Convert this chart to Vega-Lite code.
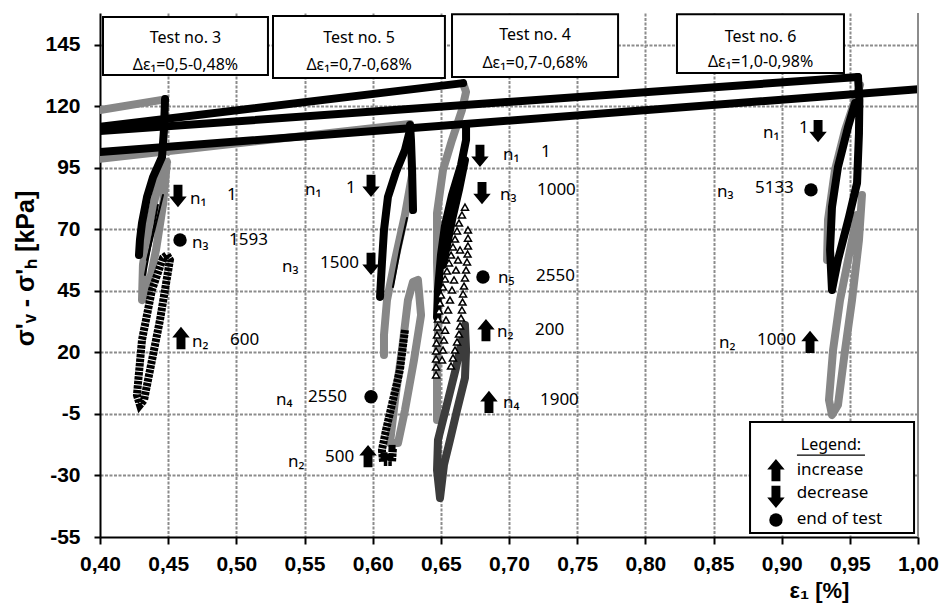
{
  "$schema": "https://vega.github.io/schema/vega-lite/v6.json",
  "width": 818,
  "height": 524,
  "autosize": {"type": "none"},
  "padding": {"left": 100, "top": 13, "right": 23, "bottom": 67},
  "background": "white",
  "config": {"view": {"stroke": null}, "font": "Liberation Sans"},
  "datasets": {
    "lines": [
      {"s":"g_load3","i":0,"x":0.40,"y":118.6},{"s":"g_load3","i":1,"x":0.4477,"y":122.9},
      {"s":"g_loop3","i":0,"x":0.4491,"y":97.4},{"s":"g_loop3","i":1,"x":0.4462,"y":80.0},{"s":"g_loop3","i":2,"x":0.4411,"y":61.7},{"s":"g_loop3","i":3,"x":0.4352,"y":45.4},{"s":"g_loop3","i":4,"x":0.4308,"y":41.3},{"s":"g_loop3","i":5,"x":0.4315,"y":55.6},{"s":"g_loop3","i":6,"x":0.4359,"y":71.8},{"s":"g_loop3","i":7,"x":0.4418,"y":86.1},{"s":"g_loop3","i":8,"x":0.4462,"y":96.2},{"s":"g_loop3","i":9,"x":0.4491,"y":97.4},
      {"s":"g_load5","i":0,"x":0.40,"y":98.7},{"s":"g_load5","i":1,"x":0.6274,"y":112.9},
      {"s":"g_up5","i":0,"x":0.6289,"y":92.1},{"s":"g_up5","i":1,"x":0.6237,"y":75.9},{"s":"g_up5","i":2,"x":0.6164,"y":57.6},{"s":"g_up5","i":3,"x":0.6105,"y":41.3},{"s":"g_up5","i":4,"x":0.6083,"y":27.1},{"s":"g_up5","i":5,"x":0.6083,"y":19.0},
      {"s":"g_low5","i":0,"x":0.6332,"y":49.5},{"s":"g_low5","i":1,"x":0.6355,"y":35.2},{"s":"g_low5","i":2,"x":0.6303,"y":16.9},{"s":"g_low5","i":3,"x":0.6237,"y":-3.4},{"s":"g_low5","i":4,"x":0.6186,"y":-16.8},{"s":"g_low5","i":5,"x":0.6127,"y":-16.8},{"s":"g_low5","i":6,"x":0.6164,"y":0.7},{"s":"g_low5","i":7,"x":0.6215,"y":21.0},{"s":"g_low5","i":8,"x":0.6259,"y":41.3},{"s":"g_low5","i":9,"x":0.6296,"y":48.7},{"s":"g_low5","i":10,"x":0.6332,"y":49.5},
      {"s":"g_t4","i":0,"x":0.6663,"y":129.5},{"s":"g_t4","i":1,"x":0.6685,"y":125.9},{"s":"g_t4","i":2,"x":0.6655,"y":118.6},{"s":"g_t4","i":3,"x":0.6582,"y":106.4},{"s":"g_t4","i":4,"x":0.6516,"y":94.2},{"s":"g_t4","i":5,"x":0.6472,"y":76.7},{"s":"g_t4","i":6,"x":0.6472,"y":56.4},{"s":"g_t4","i":7,"x":0.6479,"y":41.3},{"s":"g_t4","i":8,"x":0.6479,"y":25.1},{"s":"g_t4","i":9,"x":0.6472,"y":8.8},{"s":"g_t4","i":10,"x":0.6472,"y":-7.4},
      {"s":"g_t6u","i":0,"x":0.9575,"y":128.7},{"s":"g_t6u","i":1,"x":0.9465,"y":110.4},{"s":"g_t6u","i":2,"x":0.9391,"y":94.2},{"s":"g_t6u","i":3,"x":0.934,"y":73.9},{"s":"g_t6u","i":4,"x":0.9333,"y":57.6},
      {"s":"g_t6l","i":0,"x":0.9589,"y":84.0},{"s":"g_t6l","i":1,"x":0.9567,"y":65.7},{"s":"g_t6l","i":2,"x":0.9516,"y":41.3},{"s":"g_t6l","i":3,"x":0.9465,"y":21.0},{"s":"g_t6l","i":4,"x":0.9413,"y":-1.3},{"s":"g_t6l","i":5,"x":0.9369,"y":-5.4},{"s":"g_t6l","i":6,"x":0.9347,"y":0.7},{"s":"g_t6l","i":7,"x":0.9377,"y":21.0},{"s":"g_t6l","i":8,"x":0.9428,"y":41.3},{"s":"g_t6l","i":9,"x":0.9487,"y":57.6},{"s":"g_t6l","i":10,"x":0.9553,"y":75.9},
      {"s":"dg_t4","i":0,"x":0.6677,"y":31.2},{"s":"dg_t4","i":1,"x":0.6685,"y":21.0},{"s":"dg_t4","i":2,"x":0.6677,"y":9.6},{"s":"dg_t4","i":3,"x":0.6619,"y":-3.4},{"s":"dg_t4","i":4,"x":0.6567,"y":-15.6},{"s":"dg_t4","i":5,"x":0.6523,"y":-25.7},{"s":"dg_t4","i":6,"x":0.6494,"y":-39.2},{"s":"dg_t4","i":7,"x":0.6472,"y":-27.8},{"s":"dg_t4","i":8,"x":0.6479,"y":-15.6},{"s":"dg_t4","i":9,"x":0.6538,"y":-2.6},{"s":"dg_t4","i":10,"x":0.6611,"y":13.7},{"s":"dg_t4","i":11,"x":0.6663,"y":27.1},{"s":"dg_t4","i":12,"x":0.6677,"y":31.2},
      {"s":"L1","i":0,"x":0.40,"y":111.7},{"s":"L1","i":1,"x":0.6663,"y":129.5},
      {"s":"L2","i":0,"x":0.40,"y":110.0},{"s":"L2","i":1,"x":0.956,"y":132.0},
      {"s":"L3","i":0,"x":0.40,"y":101.5},{"s":"L3","i":1,"x":1.0,"y":127.0},
      {"s":"b_t6","i":0,"x":0.956,"y":132.0},{"s":"b_t6","i":1,"x":0.957,"y":122.6},{"s":"b_t6","i":2,"x":0.9567,"y":109.2},{"s":"b_t6","i":3,"x":0.9553,"y":88.9},{"s":"b_t6","i":4,"x":0.9494,"y":75.1},{"s":"b_t6","i":5,"x":0.9413,"y":57.6},{"s":"b_t6","i":6,"x":0.9369,"y":45.4},{"s":"b_t6","i":7,"x":0.9355,"y":61.7},{"s":"b_t6","i":8,"x":0.9369,"y":79.1},{"s":"b_t6","i":9,"x":0.9413,"y":95.4},{"s":"b_t6","i":10,"x":0.9487,"y":111.7},{"s":"b_t6","i":11,"x":0.9538,"y":121.4},
      {"s":"b_t3","i":0,"x":0.4477,"y":123.0},{"s":"b_t3","i":1,"x":0.4469,"y":110.4},{"s":"b_t3","i":2,"x":0.4455,"y":99.5},{"s":"b_t3","i":3,"x":0.4389,"y":91.3},{"s":"b_t3","i":4,"x":0.4345,"y":83.2},{"s":"b_t3","i":5,"x":0.4308,"y":72.6},{"s":"b_t3","i":6,"x":0.4293,"y":65.7},{"s":"b_t3","i":7,"x":0.4286,"y":59.6},
      {"s":"b_t5a","i":0,"x":0.6274,"y":112.5},{"s":"b_t5a","i":1,"x":0.6281,"y":106.4},{"s":"b_t5a","i":2,"x":0.6289,"y":94.2},{"s":"b_t5a","i":3,"x":0.6296,"y":77.9},
      {"s":"b_t5b","i":0,"x":0.6274,"y":110.4},{"s":"b_t5b","i":1,"x":0.6237,"y":102.3},{"s":"b_t5b","i":2,"x":0.6171,"y":93.4},{"s":"b_t5b","i":3,"x":0.6112,"y":83.2},{"s":"b_t5b","i":4,"x":0.6083,"y":69.8},{"s":"b_t5b","i":5,"x":0.6068,"y":56.4},{"s":"b_t5b","i":6,"x":0.6054,"y":42.6},
      {"s":"b_t4a","i":0,"x":0.6685,"y":112.9},{"s":"b_t4a","i":1,"x":0.6685,"y":106.4},{"s":"b_t4a","i":2,"x":0.6648,"y":96.2},{"s":"b_t4a","i":3,"x":0.6582,"y":84.0},{"s":"b_t4a","i":4,"x":0.6531,"y":71.8},{"s":"b_t4a","i":5,"x":0.6501,"y":59.6},{"s":"b_t4a","i":6,"x":0.6479,"y":45.4},{"s":"b_t4a","i":7,"x":0.6472,"y":34.4},
      {"s":"b_t4b","i":0,"x":0.6677,"y":98.2},{"s":"b_t4b","i":1,"x":0.6633,"y":86.1},{"s":"b_t4b","i":2,"x":0.6582,"y":73.9},{"s":"b_t4b","i":3,"x":0.6538,"y":61.7},{"s":"b_t4b","i":4,"x":0.6516,"y":55.6},
      {"s":"th_t3a","i":0,"x":0.4462,"y":84.0},{"s":"th_t3a","i":1,"x":0.4345,"y":57.6},
      {"s":"th_t3b","i":0,"x":0.4425,"y":80.0},{"s":"th_t3b","i":1,"x":0.433,"y":51.5},
      {"s":"th_t5","i":0,"x":0.6252,"y":74.7},{"s":"th_t5","i":1,"x":0.62,"y":61.7},{"s":"th_t5","i":2,"x":0.6149,"y":46.6},
      {"s":"h_t3","i":0,"x":0.4491,"y":59.6},{"s":"h_t3","i":1,"x":0.4513,"y":57.6},{"s":"h_t3","i":2,"x":0.444,"y":33.2},{"s":"h_t3","i":3,"x":0.4367,"y":12.9},{"s":"h_t3","i":4,"x":0.4323,"y":0.7},{"s":"h_t3","i":5,"x":0.4293,"y":-1.3},{"s":"h_t3","i":6,"x":0.4271,"y":2.7},{"s":"h_t3","i":7,"x":0.4308,"y":25.1},{"s":"h_t3","i":8,"x":0.4381,"y":45.4},{"s":"h_t3","i":9,"x":0.4462,"y":58.4},{"s":"h_t3","i":10,"x":0.4491,"y":59.6},
      {"s":"h_t5","i":0,"x":0.6237,"y":29.1},{"s":"h_t5","i":1,"x":0.62,"y":12.9},{"s":"h_t5","i":2,"x":0.6149,"y":0.7},{"s":"h_t5","i":3,"x":0.6098,"y":-11.5},{"s":"h_t5","i":4,"x":0.6068,"y":-19.6},{"s":"h_t5","i":5,"x":0.6076,"y":-24.5},{"s":"h_t5","i":6,"x":0.6142,"y":-24.5},{"s":"h_t5","i":7,"x":0.6149,"y":-18.8}
    ],
    "tri": [
      {"x":0.6677,"y":79.1},{"x":0.6655,"y":75.9},{"x":0.6633,"y":72.6},{"x":0.6619,"y":69.4},{"x":0.6604,"y":66.1},{"x":0.6589,"y":62.9},{"x":0.6575,"y":59.6},{"x":0.656,"y":56.4},{"x":0.6545,"y":53.1},{"x":0.6531,"y":49.9},{"x":0.6516,"y":46.6},{"x":0.6501,"y":43.4},{"x":0.6494,"y":40.1},{"x":0.6487,"y":36.9},{"x":0.6479,"y":33.6},{"x":0.6476,"y":30.4},{"x":0.6472,"y":27.1},{"x":0.6468,"y":23.9},{"x":0.6465,"y":20.6},{"x":0.6465,"y":17.4},{"x":0.6465,"y":14.1},{"x":0.6465,"y":10.9},
      {"x":0.6641,"y":61.7},{"x":0.6626,"y":57.6},{"x":0.6611,"y":53.5},{"x":0.6597,"y":49.5},{"x":0.6582,"y":45.4},{"x":0.6567,"y":41.3},{"x":0.6553,"y":37.3},{"x":0.6538,"y":33.2},{"x":0.6531,"y":29.1},{"x":0.6523,"y":25.1},{"x":0.6516,"y":21.0},{"x":0.6509,"y":17.0},
      {"x":0.6699,"y":69.8},{"x":0.6699,"y":66.5},{"x":0.6699,"y":63.3},{"x":0.6696,"y":60.0},{"x":0.6692,"y":56.8},{"x":0.6685,"y":53.5},{"x":0.6677,"y":50.3},{"x":0.667,"y":47.0},{"x":0.6663,"y":43.8},{"x":0.6659,"y":40.5},{"x":0.6655,"y":37.3},{"x":0.6648,"y":34.0},{"x":0.6641,"y":30.8},{"x":0.6633,"y":27.5},{"x":0.6619,"y":24.3},{"x":0.6604,"y":21.0},{"x":0.6589,"y":17.8},{"x":0.6575,"y":14.5}
    ],
    "sq": [
      {"x":0.6083,"y":-22.0},{"x":0.6127,"y":-22.5},{"x":0.6142,"y":-19.0}
    ],
    "arrows": [
      {"k":"down","x":0.4572,"y":83.6},{"k":"down","x":0.5988,"y":87.7},{"k":"down","x":0.5988,"y":56.0},{"k":"down","x":0.6787,"y":99.9},{"k":"down","x":0.6802,"y":84.8},{"k":"down","x":0.9267,"y":110.0},{"k":"down","x":0.8958,"y":-38.7},
      {"k":"up","x":0.4594,"y":25.9},{"k":"up","x":0.5966,"y":-22.1},{"k":"up","x":0.6831,"y":29.1},{"k":"up","x":0.6853,"y":-0.1},{"k":"up","x":0.9208,"y":24.3},{"k":"up","x":0.8958,"y":-27.8}
    ],
    "dots": [
      {"x":0.4587,"y":65.7},{"x":0.5988,"y":2.0},{"x":0.6809,"y":50.7},{"x":0.9215,"y":86.1},{"x":0.8958,"y":-48.1}
    ],
    "lab": [
      {"x":0.466,"y":82.4,"t":"n₁"},{"x":0.4932,"y":84.0,"t":"1"},
      {"x":0.4675,"y":64.5,"t":"n₃"},{"x":0.4946,"y":65.7,"t":"1593"},
      {"x":0.4675,"y":24.3,"t":"n₂"},{"x":0.4954,"y":25.1,"t":"600"},
      {"x":0.5504,"y":86.0,"t":"n₁"},{"x":0.5804,"y":86.9,"t":"1"},
      {"x":0.5335,"y":54.8,"t":"n₃"},{"x":0.5614,"y":56.4,"t":"1500"},
      {"x":0.5291,"y":0.7,"t":"n₄"},{"x":0.5526,"y":1.9,"t":"2550"},
      {"x":0.5379,"y":-24.5,"t":"n₂"},{"x":0.565,"y":-22.5,"t":"500"},
      {"x":0.6956,"y":100.3,"t":"n₁"},{"x":0.7235,"y":101.5,"t":"1"},
      {"x":0.6934,"y":84.0,"t":"n₃"},{"x":0.7205,"y":86.0,"t":"1000"},
      {"x":0.6919,"y":50.3,"t":"n₅"},{"x":0.7198,"y":51.1,"t":"2550"},
      {"x":0.6912,"y":28.3,"t":"n₂"},{"x":0.7191,"y":29.1,"t":"200"},
      {"x":0.6956,"y":-0.5,"t":"n₄"},{"x":0.7227,"y":0.7,"t":"1900"},
      {"x":0.8863,"y":109.2,"t":"n₁"},{"x":0.9127,"y":111.3,"t":"1"},
      {"x":0.8526,"y":85.2,"t":"n₃"},{"x":0.8804,"y":86.9,"t":"5133"},
      {"x":0.854,"y":23.9,"t":"n₂"},{"x":0.8819,"y":25.1,"t":"1000"},
      {"x":0.911,"y":-27.8,"t":"increase"},{"x":0.911,"y":-37.1,"t":"decrease"},{"x":0.911,"y":-47.7,"t":"end of test"}
    ],
    "ctr": [
      {"x":0.4627,"y":147.8,"t":"Test no. 3"},{"x":0.4627,"y":136.9,"t":"Δε₁=0,5-0,48%"},
      {"x":0.59,"y":147.8,"t":"Test no. 5"},{"x":0.59,"y":136.9,"t":"Δε₁=0,7-0,68%"},
      {"x":0.7191,"y":149.1,"t":"Test no. 4"},{"x":0.7191,"y":137.7,"t":"Δε₁=0,7-0,68%"},
      {"x":0.8845,"y":148.2,"t":"Test no. 6"},{"x":0.8845,"y":138.1,"t":"Δε₁=1,0-0,98%"},
      {"x":0.9361,"y":-17.6,"t":"Legend:"}
    ],
    "box": [
      {"x1":0.4022,"x2":0.5232,"y1":156.4,"y2":132.8},
      {"x1":0.5269,"x2":0.653,"y1":156.8,"y2":131.6},
      {"x1":0.6582,"x2":0.78,"y1":157.5,"y2":132.0},
      {"x1":0.8232,"x2":0.9457,"y1":157.5,"y2":133.6},
      {"x1":0.8768,"x2":0.9971,"y1":-8.3,"y2":-53.4}
    ],
    "ul": [{"x1":0.9112,"x2":0.9611,"y":-21.7}],
    "edge": [{"x":1.0}]
  },
  "layer": [
    {
      "data": {"name": "lines"},
      "transform": [{"filter": {"field": "s", "oneOf": ["g_load3","g_loop3","g_load5","g_up5","g_low5","g_t4","g_t6u","g_t6l"]}}],
      "mark": {"type": "line", "color": "#878787", "strokeWidth": 8, "strokeCap": "round", "strokeJoin": "round", "clip": true},
      "encoding": {
        "x": {
          "field": "x", "type": "quantitative",
          "scale": {"domain": [0.4, 1.0], "nice": false, "zero": false},
          "axis": {
            "values": [0.4,0.415,0.43,0.445,0.45,0.46,0.475,0.49,0.5,0.505,0.52,0.535,0.55,0.565,0.58,0.595,0.6,0.61,0.625,0.64,0.65,0.655,0.67,0.685,0.7,0.715,0.73,0.745,0.75,0.76,0.775,0.79,0.8,0.805,0.82,0.835,0.85,0.865,0.88,0.895,0.9,0.91,0.925,0.94,0.95,0.955,0.97,0.985,1.0],
            "labelExpr": "abs(datum.value*20 - round(datum.value*20)) < 0.001 ? replace(format(datum.value, '.2f'), '.', ',') : ''",
            "labelOverlap": false,
            "labelFlush": false,
            "labelFont": "Liberation Sans", "labelFontWeight": "bold", "labelFontSize": 21, "labelColor": "black", "labelPadding": 9,
            "grid": true, "gridColor": "#8c8c8c", "gridWidth": 2, "gridDash": [3, 1.5],
            "gridOpacity": {"condition": {"test": "abs(datum.value*20 - round(datum.value*20)) < 0.001 && datum.value > 0.41 && datum.value < 0.99", "value": 1}, "value": 0},
            "domainColor": "black", "domainWidth": 2,
            "tickColor": "black", "tickWidth": 2, "tickSize": 7,
            "title": "ε₁ [%]",
            "titleFont": "Liberation Sans", "titleFontWeight": "bold", "titleFontSize": 22, "titleColor": "black",
            "titleX": 719, "titleY": 53, "titleAlign": "center", "titleBaseline": "middle", "titleAnchor": null
          }
        },
        "y": {
          "field": "y", "type": "quantitative",
          "scale": {"domain": [-55, 158], "nice": false, "zero": false},
          "axis": {
            "values": [-55,-42.5,-30,-17.5,-5,7.5,20,32.5,45,57.5,70,82.5,95,107.5,120,132.5,145],
            "labelExpr": "(datum.value + 55) % 25 == 0 ? '' + datum.value : ''",
            "labelOverlap": false,
            "labelFlush": false,
            "labelFont": "Liberation Sans", "labelFontWeight": "bold", "labelFontSize": 21, "labelColor": "black", "labelPadding": 14,
            "grid": true, "gridColor": "#8c8c8c", "gridWidth": 2, "gridDash": [3, 1.5],
            "gridOpacity": {"condition": {"test": "(datum.value + 55) % 25 == 0 && datum.value > -50", "value": 1}, "value": 0},
            "domainColor": "black", "domainWidth": 2,
            "tickColor": "black", "tickWidth": 2, "tickSize": 6,
            "title": "σ'ᵥ - σ'ₕ  [kPa]",
            "titleFont": "Liberation Sans", "titleFontWeight": "bold", "titleFontSize": 25, "titleColor": "black",
            "titleX": -75, "titleY": 255, "titleAngle": 270, "titleAlign": "center", "titleBaseline": "middle", "titleAnchor": null
          }
        },
        "detail": {"field": "s"},
        "order": {"field": "i"}
      }
    },
    {
      "data": {"name": "lines"},
      "transform": [{"filter": {"field": "s", "oneOf": ["dg_t4"]}}],
      "mark": {"type": "line", "color": "#3c3c3c", "strokeWidth": 8, "strokeCap": "round", "strokeJoin": "round", "clip": true},
      "encoding": {"x": {"field": "x", "type": "quantitative"}, "y": {"field": "y", "type": "quantitative"}, "detail": {"field": "s"}, "order": {"field": "i"}}
    },
    {
      "data": {"name": "lines"},
      "transform": [{"filter": {"field": "s", "oneOf": ["L1","L2","L3","b_t6","b_t3","b_t5a","b_t5b","b_t4a","b_t4b"]}}],
      "mark": {"type": "line", "color": "black", "strokeWidth": 8, "strokeCap": "round", "strokeJoin": "round", "clip": true},
      "encoding": {"x": {"field": "x", "type": "quantitative"}, "y": {"field": "y", "type": "quantitative"}, "detail": {"field": "s"}, "order": {"field": "i"}}
    },
    {
      "data": {"name": "lines"},
      "transform": [{"filter": {"field": "s", "oneOf": ["th_t3a","th_t3b","th_t5"]}}],
      "mark": {"type": "line", "color": "black", "strokeWidth": 2, "strokeCap": "round", "clip": true},
      "encoding": {"x": {"field": "x", "type": "quantitative"}, "y": {"field": "y", "type": "quantitative"}, "detail": {"field": "s"}, "order": {"field": "i"}}
    },
    {
      "data": {"name": "lines"},
      "transform": [{"filter": {"field": "s", "oneOf": ["h_t3","h_t5"]}}],
      "mark": {"type": "line", "color": "black", "strokeWidth": 8, "strokeDash": [3.5, 1], "clip": true},
      "encoding": {"x": {"field": "x", "type": "quantitative"}, "y": {"field": "y", "type": "quantitative"}, "detail": {"field": "s"}, "order": {"field": "i"}}
    },
    {
      "data": {"name": "tri"},
      "mark": {"type": "point", "shape": "triangle-up", "size": 49, "filled": true, "fill": "white", "stroke": "black", "strokeWidth": 1.5, "opacity": 1},
      "encoding": {"x": {"field": "x", "type": "quantitative"}, "y": {"field": "y", "type": "quantitative"}}
    },
    {
      "data": {"name": "sq"},
      "mark": {"type": "point", "shape": "square", "size": 50, "filled": true, "color": "black", "opacity": 1},
      "encoding": {"x": {"field": "x", "type": "quantitative"}, "y": {"field": "y", "type": "quantitative"}}
    },
    {
      "data": {"name": "box"},
      "mark": {"type": "rect", "fill": "white", "stroke": "black", "strokeWidth": 2},
      "encoding": {"x": {"field": "x1", "type": "quantitative"}, "x2": {"field": "x2"}, "y": {"field": "y1", "type": "quantitative"}, "y2": {"field": "y2"}}
    },
    {
      "data": {"name": "edge"},
      "mark": {"type": "rule", "color": "#8c8c8c", "strokeWidth": 2},
      "encoding": {"x": {"field": "x", "type": "quantitative"}}
    },
    {
      "data": {"name": "arrows"},
      "mark": {"type": "point", "filled": true, "color": "black", "size": 500, "opacity": 1, "strokeWidth": 0},
      "encoding": {
        "x": {"field": "x", "type": "quantitative"},
        "y": {"field": "y", "type": "quantitative"},
        "shape": {"field": "k", "type": "nominal", "legend": null,
          "scale": {"domain": ["up", "down"], "range": ["M0,-1L0.78,-0.05L0.4,-0.05L0.4,1L-0.4,1L-0.4,-0.05L-0.78,-0.05Z", "M0,1L0.78,0.05L0.4,0.05L0.4,-1L-0.4,-1L-0.4,0.05L-0.78,0.05Z"]}}
      }
    },
    {
      "data": {"name": "dots"},
      "mark": {"type": "point", "shape": "circle", "filled": true, "color": "black", "size": 180, "opacity": 1},
      "encoding": {"x": {"field": "x", "type": "quantitative"}, "y": {"field": "y", "type": "quantitative"}}
    },
    {
      "data": {"name": "lab"},
      "mark": {"type": "text", "font": "Noto Sans", "fontSize": 17, "color": "black", "align": "left", "baseline": "middle"},
      "encoding": {"x": {"field": "x", "type": "quantitative"}, "y": {"field": "y", "type": "quantitative"}, "text": {"field": "t"}}
    },
    {
      "data": {"name": "ctr"},
      "mark": {"type": "text", "font": "Noto Sans", "fontSize": 16, "color": "black", "align": "center", "baseline": "middle"},
      "encoding": {"x": {"field": "x", "type": "quantitative"}, "y": {"field": "y", "type": "quantitative"}, "text": {"field": "t"}}
    },
    {
      "data": {"name": "ul"},
      "mark": {"type": "rule", "color": "black", "strokeWidth": 1.2},
      "encoding": {"x": {"field": "x1", "type": "quantitative"}, "x2": {"field": "x2"}, "y": {"field": "y", "type": "quantitative"}}
    }
  ]
}
